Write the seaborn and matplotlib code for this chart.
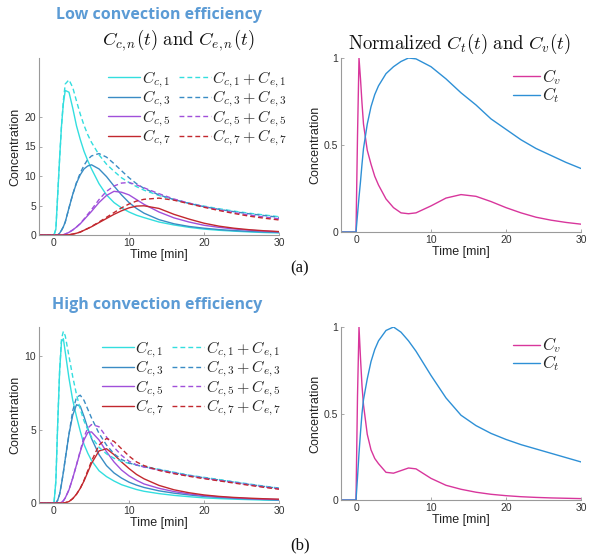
import numpy as np
import pandas as pd
import matplotlib
matplotlib.use("Agg")
import matplotlib.pyplot as plt
import seaborn as sns

# ── data ──────────────────────────────────────────────────────────────────────
t_left = [-2, 0, 0.25, 0.5, 0.75, 1, 1.25, 1.5, 2, 2.5, 3, 3.5, 4, 4.5, 5, 6, 7, 8,
          9, 10, 11, 12, 14, 16, 18, 20, 22, 24, 26, 28, 30]
t_right = [-2, 0, 0.2, 0.4, 0.6, 0.8, 1, 1.5, 2, 2.5, 3, 4, 5, 6, 7, 8, 10, 12, 14,
           16, 18, 20, 22, 24, 26, 28, 30]

# (a) low convection efficiency
low_cc1 = [0, 0, 1, 7, 13, 18.5, 22.3, 24.5, 24.2, 21.5, 18.5, 16.2, 14.2, 12.6, 11.2, 8.7,
           6.8, 5.5, 4.6, 3.9, 3.35, 2.95, 2.2, 1.7, 1.3, 1.0, 0.8, 0.65, 0.52, 0.42, 0.35]
low_ce1 = [0, 0, 1, 7, 13, 18.5, 22.8, 25.6, 26.3, 25.0, 22.7, 20.5, 18.6, 17.0, 15.7, 13.6,
           12.0, 10.8, 9.7, 8.9, 8.2, 7.6, 6.7, 6.0, 5.4, 4.9, 4.45, 4.05, 3.7, 3.4, 3.1]
low_cc3 = [0, 0, 0, 0, 0.3, 0.8, 1.4, 2.2, 4.6, 6.9, 8.8, 10.2, 11.2, 11.7, 11.9, 11.2,
           9.9, 8.3, 6.8, 5.5, 4.5, 3.7, 2.6, 1.9, 1.45, 1.15, 0.92, 0.75, 0.62, 0.52, 0.44]
low_ce3 = [0, 0, 0, 0, 0.3, 0.8, 1.4, 2.2, 4.6, 6.9, 8.9, 10.5, 11.8, 12.8, 13.4, 13.8,
           13.2, 12.1, 10.9, 9.7, 8.7, 7.9, 6.8, 6.0, 5.35, 4.8, 4.35, 3.95, 3.6, 3.3, 3.0]
low_cc5 = [0, 0, 0, 0, 0, 0, 0.05, 0.15, 0.45, 0.85, 1.35, 1.9, 2.6, 3.3, 4.0, 5.5,
           6.7, 7.4, 7.25, 6.8, 6.0, 5.2, 3.9, 2.9, 2.2, 1.65, 1.3, 1.02, 0.82, 0.66, 0.54]
low_ce5 = [0, 0, 0, 0, 0, 0, 0.05, 0.15, 0.45, 0.85, 1.35, 1.95, 2.7, 3.5, 4.3, 6.0,
           7.4, 8.3, 8.8, 8.9, 8.5, 8.0, 7.0, 6.1, 5.4, 4.8, 4.25, 3.8, 3.4, 3.05, 2.75]
low_cc7 = [0, 0, 0, 0, 0, 0, 0, 0, 0.05, 0.15, 0.3, 0.5, 0.8, 1.1, 1.4, 2.1,
           2.8, 3.5, 4.1, 4.6, 4.9, 4.95, 4.5, 3.5, 2.7, 2.0, 1.5, 1.15, 0.9, 0.72, 0.58]
low_ce7 = [0, 0, 0, 0, 0, 0, 0, 0, 0.05, 0.15, 0.3, 0.5, 0.8, 1.1, 1.45, 2.2,
           3.0, 3.8, 4.6, 5.25, 5.75, 6.05, 6.25, 5.9, 5.3, 4.7, 4.15, 3.65, 3.2, 2.85, 2.55]
low_cv = [0, 0, 0.55, 1.0, 0.88, 0.74, 0.62, 0.47, 0.39, 0.32, 0.27, 0.19, 0.14, 0.11,
          0.105, 0.11, 0.15, 0.195, 0.215, 0.205, 0.175, 0.14, 0.11, 0.085, 0.068, 0.055, 0.045]
low_ct = [0, 0, 0.1, 0.2, 0.29, 0.39, 0.48, 0.62, 0.72, 0.79, 0.84, 0.91, 0.95, 0.98,
          1.0, 0.995, 0.95, 0.88, 0.8, 0.73, 0.65, 0.59, 0.53, 0.48, 0.44, 0.4, 0.365]

# (b) high convection efficiency
high_cc1 = [0, 0, 1.5, 5.5, 9.0, 11.0, 11.2, 10.3, 8.5, 7.0, 5.9, 4.9, 4.0, 3.4, 2.9, 2.2,
            1.8, 1.5, 1.25, 1.08, 0.92, 0.8, 0.64, 0.52, 0.43, 0.35, 0.3, 0.26, 0.23, 0.2, 0.18]
high_ce1 = [0, 0, 1.5, 5.5, 9.0, 11.2, 11.7, 11.4, 10.0, 8.6, 7.4, 6.4, 5.6, 5.0, 4.5, 3.8,
            3.35, 3.05, 2.85, 2.7, 2.6, 2.5, 2.3, 2.1, 1.9, 1.75, 1.6, 1.45, 1.3, 1.15, 1.02]
high_cc3 = [0, 0, 0, 0.2, 0.6, 1.3, 2.1, 3.0, 4.7, 6.0, 6.7, 6.6, 5.9, 5.1, 4.4, 3.3,
            2.55, 2.05, 1.7, 1.42, 1.22, 1.06, 0.83, 0.67, 0.55, 0.45, 0.38, 0.32, 0.28, 0.24, 0.21]
high_ce3 = [0, 0, 0, 0.2, 0.6, 1.3, 2.1, 3.0, 4.7, 6.3, 7.2, 7.35, 7.0, 6.4, 5.8, 4.75,
            3.95, 3.35, 2.97, 2.73, 2.58, 2.47, 2.27, 2.07, 1.88, 1.72, 1.57, 1.42, 1.27, 1.13, 1.0]
high_cc5 = [0, 0, 0, 0, 0, 0.05, 0.15, 0.35, 0.9, 1.7, 2.6, 3.5, 4.3, 4.8, 4.85, 4.3,
            3.5, 2.8, 2.25, 1.85, 1.55, 1.3, 1.0, 0.78, 0.62, 0.5, 0.42, 0.35, 0.3, 0.26, 0.23]
high_ce5 = [0, 0, 0, 0, 0, 0.05, 0.15, 0.35, 0.9, 1.7, 2.6, 3.55, 4.5, 5.1, 5.35, 5.2,
            4.5, 3.8, 3.25, 2.85, 2.6, 2.45, 2.24, 2.04, 1.85, 1.69, 1.54, 1.39, 1.24, 1.1, 0.97]
high_cc7 = [0, 0, 0, 0, 0, 0, 0, 0.02, 0.1, 0.3, 0.6, 1.0, 1.5, 2.1, 2.7, 3.55,
            3.7, 3.3, 2.8, 2.35, 1.95, 1.65, 1.2, 0.9, 0.7, 0.55, 0.45, 0.38, 0.33, 0.29, 0.26]
high_ce7 = [0, 0, 0, 0, 0, 0, 0, 0.02, 0.1, 0.3, 0.6, 1.0, 1.55, 2.2, 2.85, 3.95,
            4.4, 4.2, 3.7, 3.2, 2.8, 2.55, 2.22, 2.0, 1.82, 1.66, 1.51, 1.36, 1.21, 1.07, 0.94]
high_cv = [0, 0, 0.6, 1.0, 0.82, 0.66, 0.55, 0.38, 0.29, 0.24, 0.21, 0.16, 0.155, 0.17,
           0.185, 0.18, 0.125, 0.085, 0.062, 0.045, 0.033, 0.025, 0.019, 0.015, 0.012, 0.01, 0.008]
high_ct = [0, 0, 0.13, 0.27, 0.39, 0.5, 0.58, 0.7, 0.8, 0.87, 0.92, 0.98, 1.0, 0.97,
           0.92, 0.86, 0.72, 0.59, 0.49, 0.43, 0.385, 0.35, 0.32, 0.295, 0.27, 0.245, 0.22]

solid_labels = [r"$C_{c,1}$", r"$C_{c,3}$", r"$C_{c,5}$", r"$C_{c,7}$"]
dash_labels = [r"$C_{c,1}+C_{e,1}$", r"$C_{c,3}+C_{e,3}$",
               r"$C_{c,5}+C_{e,5}$", r"$C_{c,7}+C_{e,7}$"]

# ── style ─────────────────────────────────────────────────────────────────────
COLS = ["#33DEDF", "#3A8CC4", "#A050DA", "#C2282E"]
CV_COL = "#D8369C"
CT_COL = "#2E90D6"
AX_COL = "#9a9a9a"
TITLE_BLUE = "#5B9BD5"
DASH = (0, (3.5, 2.2))

sns.set_theme(style="ticks")
plt.rcParams["font.family"] = ["Liberation Sans", "DejaVu Sans"]
plt.rcParams["mathtext.fontset"] = "cm"

fig = plt.figure(figsize=(5.92, 5.57), dpi=100)
W, H = 592, 557


def add_ax(x0, y0, x1, y1):
    return fig.add_axes([x0 / W, 1 - y1 / H, (x1 - x0) / W, (y1 - y0) / H])


def style_ax(ax, ylim, yticks, yticklabels):
    ax.set_xlim(-2, 30)
    ax.set_ylim(*ylim)
    ax.set_xticks([0, 10, 20, 30])
    ax.set_yticks(yticks)
    ax.set_yticklabels(yticklabels)
    sns.despine(ax=ax)
    for s in ["left", "bottom"]:
        ax.spines[s].set_color(AX_COL)
        ax.spines[s].set_linewidth(0.8)
    ax.tick_params(direction="in", length=2.5, width=0.6, color=AX_COL,
                   labelsize=7.5, labelcolor="#333333", pad=2)
    ax.set_xlabel("Time [min]", fontsize=9, color="#222222", labelpad=1)
    ax.set_ylabel("Concentration", fontsize=9, color="#222222", labelpad=2)


def left_panel(ax, solids, dashed, ylim, yticks, legend_anchor):
    handles = []
    for y, c in zip(solids, COLS):
        sns.lineplot(x=t_left, y=y, ax=ax, color=c, lw=1.0, sort=False)
        handles.append(ax.lines[-1])
    for y, c in zip(dashed, COLS):
        sns.lineplot(x=t_left, y=y, ax=ax, color=c, lw=1.0, linestyle=DASH, sort=False)
        handles.append(ax.lines[-1])
    style_ax(ax, ylim, yticks, [str(v) for v in yticks])
    ax.legend(handles, solid_labels + dash_labels, ncol=2, frameon=False,
              loc="upper left", bbox_to_anchor=legend_anchor, fontsize=11.5,
              handlelength=2.0, handletextpad=0.1, columnspacing=0.5,
              labelspacing=-0.05, borderaxespad=0)


def right_panel(ax, cv, ct, legend_anchor):
    sns.lineplot(x=t_right, y=cv, ax=ax, color=CV_COL, lw=1.0, sort=False)
    sns.lineplot(x=t_right, y=ct, ax=ax, color=CT_COL, lw=1.0, sort=False)
    style_ax(ax, (0, 1), [0, 0.5, 1], ["0", "0.5", "1"])
    ax.legend(ax.lines[-2:], [r"$C_v$", r"$C_t$"], frameon=False, loc="upper left",
              bbox_to_anchor=legend_anchor, fontsize=12, handlelength=1.6,
              handletextpad=0.1, labelspacing=-0.1, borderaxespad=0)


ax1 = add_ax(39, 58, 279, 235)
left_panel(ax1, [low_cc1, low_cc3, low_cc5, low_cc7],
           [low_ce1, low_ce3, low_ce5, low_ce7], (0, 30), [0, 5, 10, 15, 20],
           (0.262, 0.97))
ax2 = add_ax(341, 58, 581, 232)
right_panel(ax2, low_cv, low_ct, (0.69, 0.985))
ax3 = add_ax(39, 327, 279, 503)
left_panel(ax3, [high_cc1, high_cc3, high_cc5, high_cc7],
           [high_ce1, high_ce3, high_ce5, high_ce7], (0, 12), [0, 5, 10],
           (0.235, 0.965))
ax4 = add_ax(341, 327, 581, 500)
right_panel(ax4, high_cv, high_ct, (0.69, 0.99))

# titles and panel tags
fig.text(159 / W, 1 - 15 / H, "Low convection efficiency", ha="center", va="center",
         fontsize=11.5, fontweight="bold", color=TITLE_BLUE, family=["Open Sans", "DejaVu Sans"])
fig.text(157 / W, 1 - 305 / H, "High convection efficiency", ha="center", va="center",
         fontsize=11.5, fontweight="bold", color=TITLE_BLUE, family=["Open Sans", "DejaVu Sans"])
fig.text(178 / W, 1 - 40 / H, r"$C_{c,n}(t)\ \mathrm{and}\ C_{e,n}(t)$", ha="center",
         va="center", fontsize=13.5, color="#111111")
fig.text(459 / W, 1 - 44 / H, r"$\mathrm{Normalized}\ C_t(t)\ \mathrm{and}\ C_v(t)$",
         ha="center", va="center", fontsize=13.5, color="#111111")
fig.text(300 / W, 1 - 268 / H, "(a)", ha="center", va="center", fontsize=12,
         family=["Liberation Serif", "DejaVu Serif"], color="#111111")
fig.text(300 / W, 1 - 545 / H, "(b)", ha="center", va="center", fontsize=12,
         family=["Liberation Serif", "DejaVu Serif"], color="#111111")

fig.savefig("out.png", dpi=100, facecolor="white")
